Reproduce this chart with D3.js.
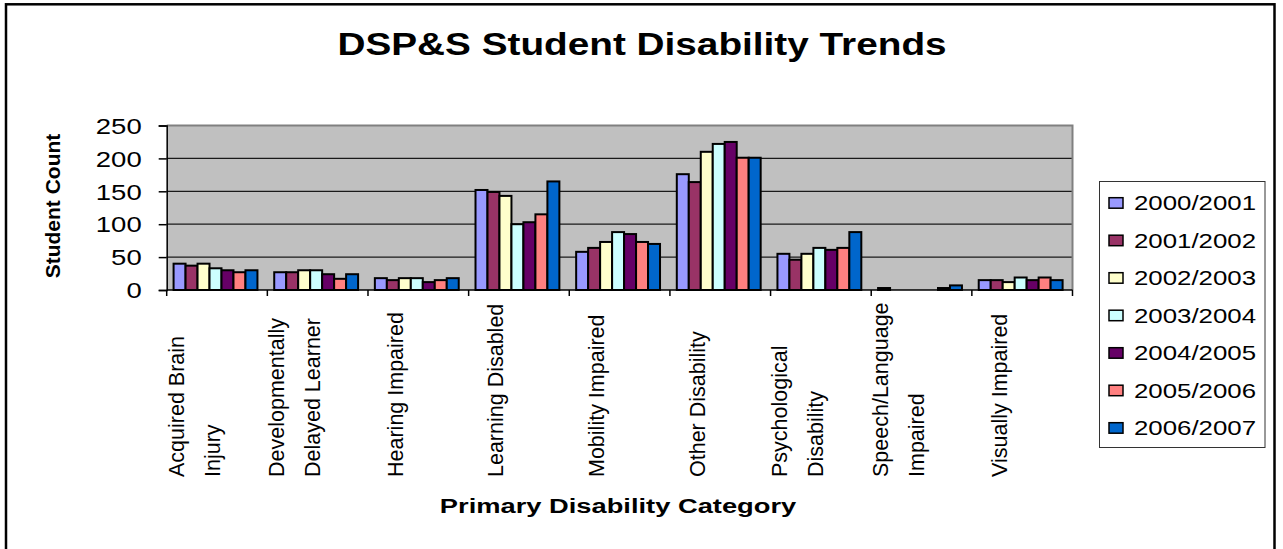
<!DOCTYPE html>
<html><head><meta charset="utf-8">
<script src="https://cdn.jsdelivr.net/npm/d3@7"></script>
<style>
body{margin:0;background:#fff}
svg{display:block}
text{font-family:"Liberation Sans",Arial,Helvetica,sans-serif;fill:#000}
</style>
</head><body>
<svg id="chart" width="1283" height="549"></svg>
<script>
// ---------- data ----------
const categories = ["Acquired Brain Injury","Developmentally Delayed Learner","Hearing Impaired","Learning Disabled","Mobility Impaired","Other Disability","Psychological Disability","Speech/Language Impaired","Visually Impaired"];
const categoryLabelLines = [["Acquired Brain","Injury"],["Developmentally","Delayed Learner"],["Hearing Impaired"],["Learning Disabled"],["Mobility Impaired"],["Other Disability"],["Psychological","Disability"],["Speech/Language","Impaired"],["Visually Impaired"]];
const seriesNames = ["2000/2001","2001/2002","2002/2003","2003/2004","2004/2005","2005/2006","2006/2007"];
const v2000 = [40, 27, 18, 152, 58, 176, 55, 3, 15];
const v2001 = [37, 27, 15, 149, 64, 164, 46, 0, 15];
const v2002 = [40, 30, 18, 143, 73, 210, 55, 0, 12];
const v2003 = [33, 30, 18, 100, 88, 222, 64, 0, 19];
const v2004 = [30, 24, 12, 103, 85, 225, 61, 0, 15];
const v2005 = [27, 17, 15, 115, 73, 201, 64, 3, 19];
const v2006 = [30, 24, 18, 165, 70, 201, 88, 7, 15];
const seriesValues = [v2000, v2001, v2002, v2003, v2004, v2005, v2006];
const seriesColors = ["#9999FF","#993366","#FFFFCC","#CCFFFF","#660066","#FF8080","#0066CC"];
const yTicks = [0, 50, 100, 150, 200, 250];
const titleText = "DSP&S Student Disability Trends";
const yTitle = "Student Count";
const xTitle = "Primary Disability Category";

// ---------- layout ----------
const HS = 1.25; // horizontal text stretch of the original rendering
const plot = {left: 166.7, right: 1072.5, top: 125.5, bottom: 290};
const svg = d3.select("#chart");

// outer border
svg.append("rect").attr("x", 6).attr("y", 4.3).attr("width", 1268.5).attr("height", 700)
  .attr("fill", "#fff").attr("stroke", "#000").attr("stroke-width", 2.5);

const x0 = d3.scaleBand().domain(categories).range([plot.left, plot.right]).padding(0);
const x1 = d3.scaleBand().domain(seriesNames).range([0, x0.bandwidth()]).paddingInner(0).paddingOuter(0.7).align(0.41);
const y = d3.scaleLinear().domain([0, 250]).range([plot.bottom, plot.top]);

// plot background
svg.append("rect").attr("x", plot.left).attr("y", plot.top)
  .attr("width", plot.right - plot.left).attr("height", plot.bottom - plot.top)
  .attr("fill", "#C0C0C0");

// gridlines
svg.append("g").selectAll("line").data(yTicks.filter(t => t > 0 && t < 250)).join("line")
  .attr("x1", plot.left).attr("x2", plot.right)
  .attr("y1", d => y(d)).attr("y2", d => y(d))
  .attr("stroke", "#1a1a1a").attr("stroke-width", 1.2);

// plot border top/right (grey)
svg.append("path")
  .attr("d", `M${plot.left},${plot.top}H${plot.right}V${plot.bottom}`)
  .attr("fill", "none").attr("stroke", "#808080").attr("stroke-width", 2);

// bars
const rows = [];
categories.forEach((c, ci) => seriesNames.forEach((s, si) => rows.push({c, s, si, v: seriesValues[si][ci]})));
svg.append("g").selectAll("rect").data(rows).join("rect")
  .attr("x", d => x0(d.c) + x1(d.s))
  .attr("width", x1.bandwidth())
  .attr("y", d => y(d.v))
  .attr("height", d => y(0) - y(d.v))
  .attr("fill", d => seriesColors[d.si])
  .attr("stroke", "#000").attr("stroke-width", 2);

// y axis
const yAxis = d3.axisLeft(y).tickValues(yTicks).tickSize(8).tickFormat(d3.format("d"));
const gy = svg.append("g").attr("transform", `translate(${plot.left},0)`).call(yAxis);
gy.select(".domain").attr("stroke", "#000").attr("stroke-width", 1.5);
gy.selectAll(".tick line").attr("stroke", "#000").attr("stroke-width", 1.5);
gy.selectAll(".tick text").remove();
gy.selectAll(".tick").append("text")
  .attr("transform", `translate(-25,0) scale(${HS},1)`)
  .attr("text-anchor", "end").attr("dy", "0.35em")
  .style("font-size", "22px").style("fill", "#000")
  .text(d => d);

// x axis (ticks at category boundaries)
const gx = svg.append("g").attr("transform", `translate(0,${plot.bottom})`);
gx.append("line").attr("x1", plot.left).attr("x2", plot.right).attr("stroke", "#000").attr("stroke-width", 1.5);
const boundaries = categories.map(c => x0(c)).concat([plot.right]);
gx.selectAll("line.tk").data(boundaries).join("line").attr("class", "tk")
  .attr("x1", d => d).attr("x2", d => d).attr("y1", 0).attr("y2", 6)
  .attr("stroke", "#000").attr("stroke-width", 1.5);

// category labels (rotated)
const lab = svg.append("g").selectAll("g").data(categories).join("g");
lab.each(function(c, ci) {
  const lines = categoryLabelLines[ci];
  const center = x0(c) + x0.bandwidth() / 2 - 23;
  const spacing = 36;
  lines.forEach((ln, li) => {
    const lx = center + (li - (lines.length - 1) / 2) * spacing;
    d3.select(this).append("text")
      .attr("transform", `translate(${lx},477) rotate(-90)`)
      .attr("text-anchor", "start").attr("dy", "0.35em")
      .style("font-size", "21.5px")
      .text(ln);
  });
});

// title
svg.append("text")
  .attr("transform", `translate(642,55) scale(${HS},1)`)
  .attr("text-anchor", "middle")
  .style("font-size", "31px").style("font-weight", "bold")
  .text(titleText);

// y title
svg.append("text")
  .attr("transform", `translate(53,206) rotate(-90)`)
  .attr("text-anchor", "middle").attr("dy", "0.35em")
  .style("font-size", "21px").style("font-weight", "bold")
  .text(yTitle);

// x title
svg.append("text")
  .attr("transform", `translate(618,513) scale(1.3,1)`)
  .attr("text-anchor", "middle")
  .style("font-size", "21px").style("font-weight", "bold")
  .text(xTitle);

// legend
const leg = svg.append("g");
leg.append("rect").attr("x", 1099.5).attr("y", 181.5).attr("width", 165.5).attr("height", 266)
  .attr("fill", "#fff").attr("stroke", "#333").attr("stroke-width", 1);
const li = leg.selectAll("g.item").data(seriesNames).join("g").attr("class", "item")
  .attr("transform", (d, i) => `translate(0,${202.7 + i * 37.5})`);
li.append("rect").attr("x", 1109).attr("y", -5).attr("width", 14).attr("height", 10.5)
  .attr("fill", (d, i) => seriesColors[i]).attr("stroke", "#000").attr("stroke-width", 1.5);
li.append("text")
  .attr("transform", `translate(1134,0) scale(1.23,1)`)
  .attr("dy", "0.36em")
  .style("font-size", "21px")
  .text(d => d);
</script>
</body></html>
